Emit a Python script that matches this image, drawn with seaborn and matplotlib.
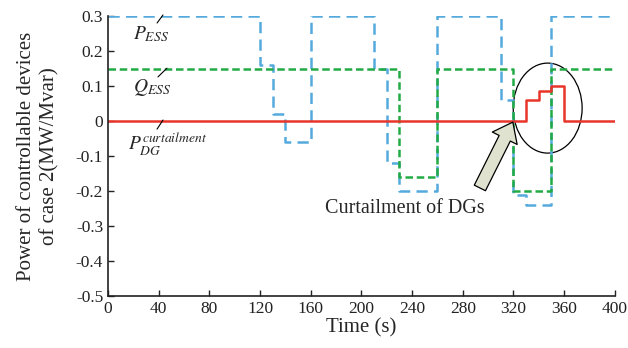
import matplotlib
matplotlib.use("Agg")
import matplotlib.pyplot as plt
import seaborn as sns
import pandas as pd
from matplotlib.patches import Ellipse

sns.set_style("ticks")
plt.rcParams['font.family'] = ['Liberation Serif', 'DejaVu Serif']
plt.rcParams['mathtext.fontset'] = 'stix'

# Data (step changes, value holds until next time)
t_pess = [0, 120, 130, 140, 160, 210, 220, 230, 260, 310, 320, 330, 350, 400]
v_pess = [0.3, 0.16, 0.02, -0.06, 0.3, 0.15, -0.12, -0.2, 0.3, 0.06, -0.21, -0.24, 0.3, 0.3]
t_qess = [0, 230, 260, 320, 350, 400]
v_qess = [0.15, -0.16, 0.15, -0.2, 0.15, 0.15]
t_pdg = [0, 330, 340, 350, 360, 400]
v_pdg = [0.0, 0.06, 0.085, 0.1, 0.0, 0.0]
x_ticks = [0, 40, 80, 120, 160, 200, 240, 280, 320, 360, 400]
y_ticks = [-0.5, -0.4, -0.3, -0.2, -0.1, 0, 0.1, 0.2, 0.3]
y_ticklabels = ['-0.5', '-0.4', '-0.3', '-0.2', '-0.1', '0', '0.1', '0.2', '0.3']

fig = plt.figure(figsize=(6.28, 3.48), dpi=100)
ax = fig.add_axes([0.172, 0.149, 0.807, 0.805])

df_p = pd.DataFrame({'t': t_pess, 'v': v_pess})
df_q = pd.DataFrame({'t': t_qess, 'v': v_qess})
df_r = pd.DataFrame({'t': t_pdg, 'v': v_pdg})

sns.lineplot(data=df_p, x='t', y='v', ax=ax, drawstyle='steps-post', color='#55aadd',
             lw=1.8, linestyle=(0, (4.5, 2.5)), estimator=None, sort=False)
sns.lineplot(data=df_q, x='t', y='v', ax=ax, drawstyle='steps-post', color='#22aa44',
             lw=1.8, linestyle=(0, (3, 1.5)), estimator=None, sort=False)
sns.lineplot(data=df_r, x='t', y='v', ax=ax, drawstyle='steps-post', color='#e8352b',
             lw=1.8, estimator=None, sort=False)

ax.set_xlim(0, 400)
ax.set_ylim(-0.5, 0.3)
ax.set_xticks(x_ticks)
ax.set_yticks(y_ticks)
ax.set_yticklabels(y_ticklabels)
ax.tick_params(direction='in', labelsize=12.5, length=4, width=1, colors='#222222')
for s in ['top', 'right']:
    ax.spines[s].set_visible(False)
for s in ['left', 'bottom']:
    ax.spines[s].set_linewidth(1.2)
    ax.spines[s].set_color('#222222')
ax.set_xlabel('Time (s)', fontsize=15, labelpad=1)
ax.set_ylabel('Power of controllable devices\nof case 2(MW/Mvar)', fontsize=15,
              labelpad=12, linespacing=1.25)

# Series labels with leader lines
ax.text(34, 0.249, r'$P_{ESS}$', fontsize=14, ha='center', va='center')
ax.plot([38.7, 43.4], [0.28, 0.303], color='black', lw=0.8, clip_on=False)
ax.text(35, 0.097, r'$Q_{ESS}$', fontsize=14, ha='center', va='center')
ax.plot([39.4, 46.5], [0.126, 0.151], color='black', lw=0.8)
ax.text(47, -0.066, r'$P_{DG}^{curtailment}$', fontsize=14, ha='center', va='center')
ax.plot([38.7, 43.4], [-0.023, 0.003], color='black', lw=0.8)

# Ellipse & arrow
ax.add_patch(Ellipse((347, 0.037), 54.4, 0.257, fill=False, edgecolor='black', lw=0.9))
ax.annotate('', xy=(319.5, -0.003), xytext=(293.5, -0.191),
            arrowprops=dict(arrowstyle='simple,head_width=2.0,head_length=1.3,tail_width=0.9',
                            fc='#dfe2cf', ec='black', lw=0.9, shrinkA=0, shrinkB=0))
ax.text(234, -0.251, 'Curtailment of DGs', fontsize=14.5, ha='center', va='center')

fig.savefig('out.png', dpi=100)
